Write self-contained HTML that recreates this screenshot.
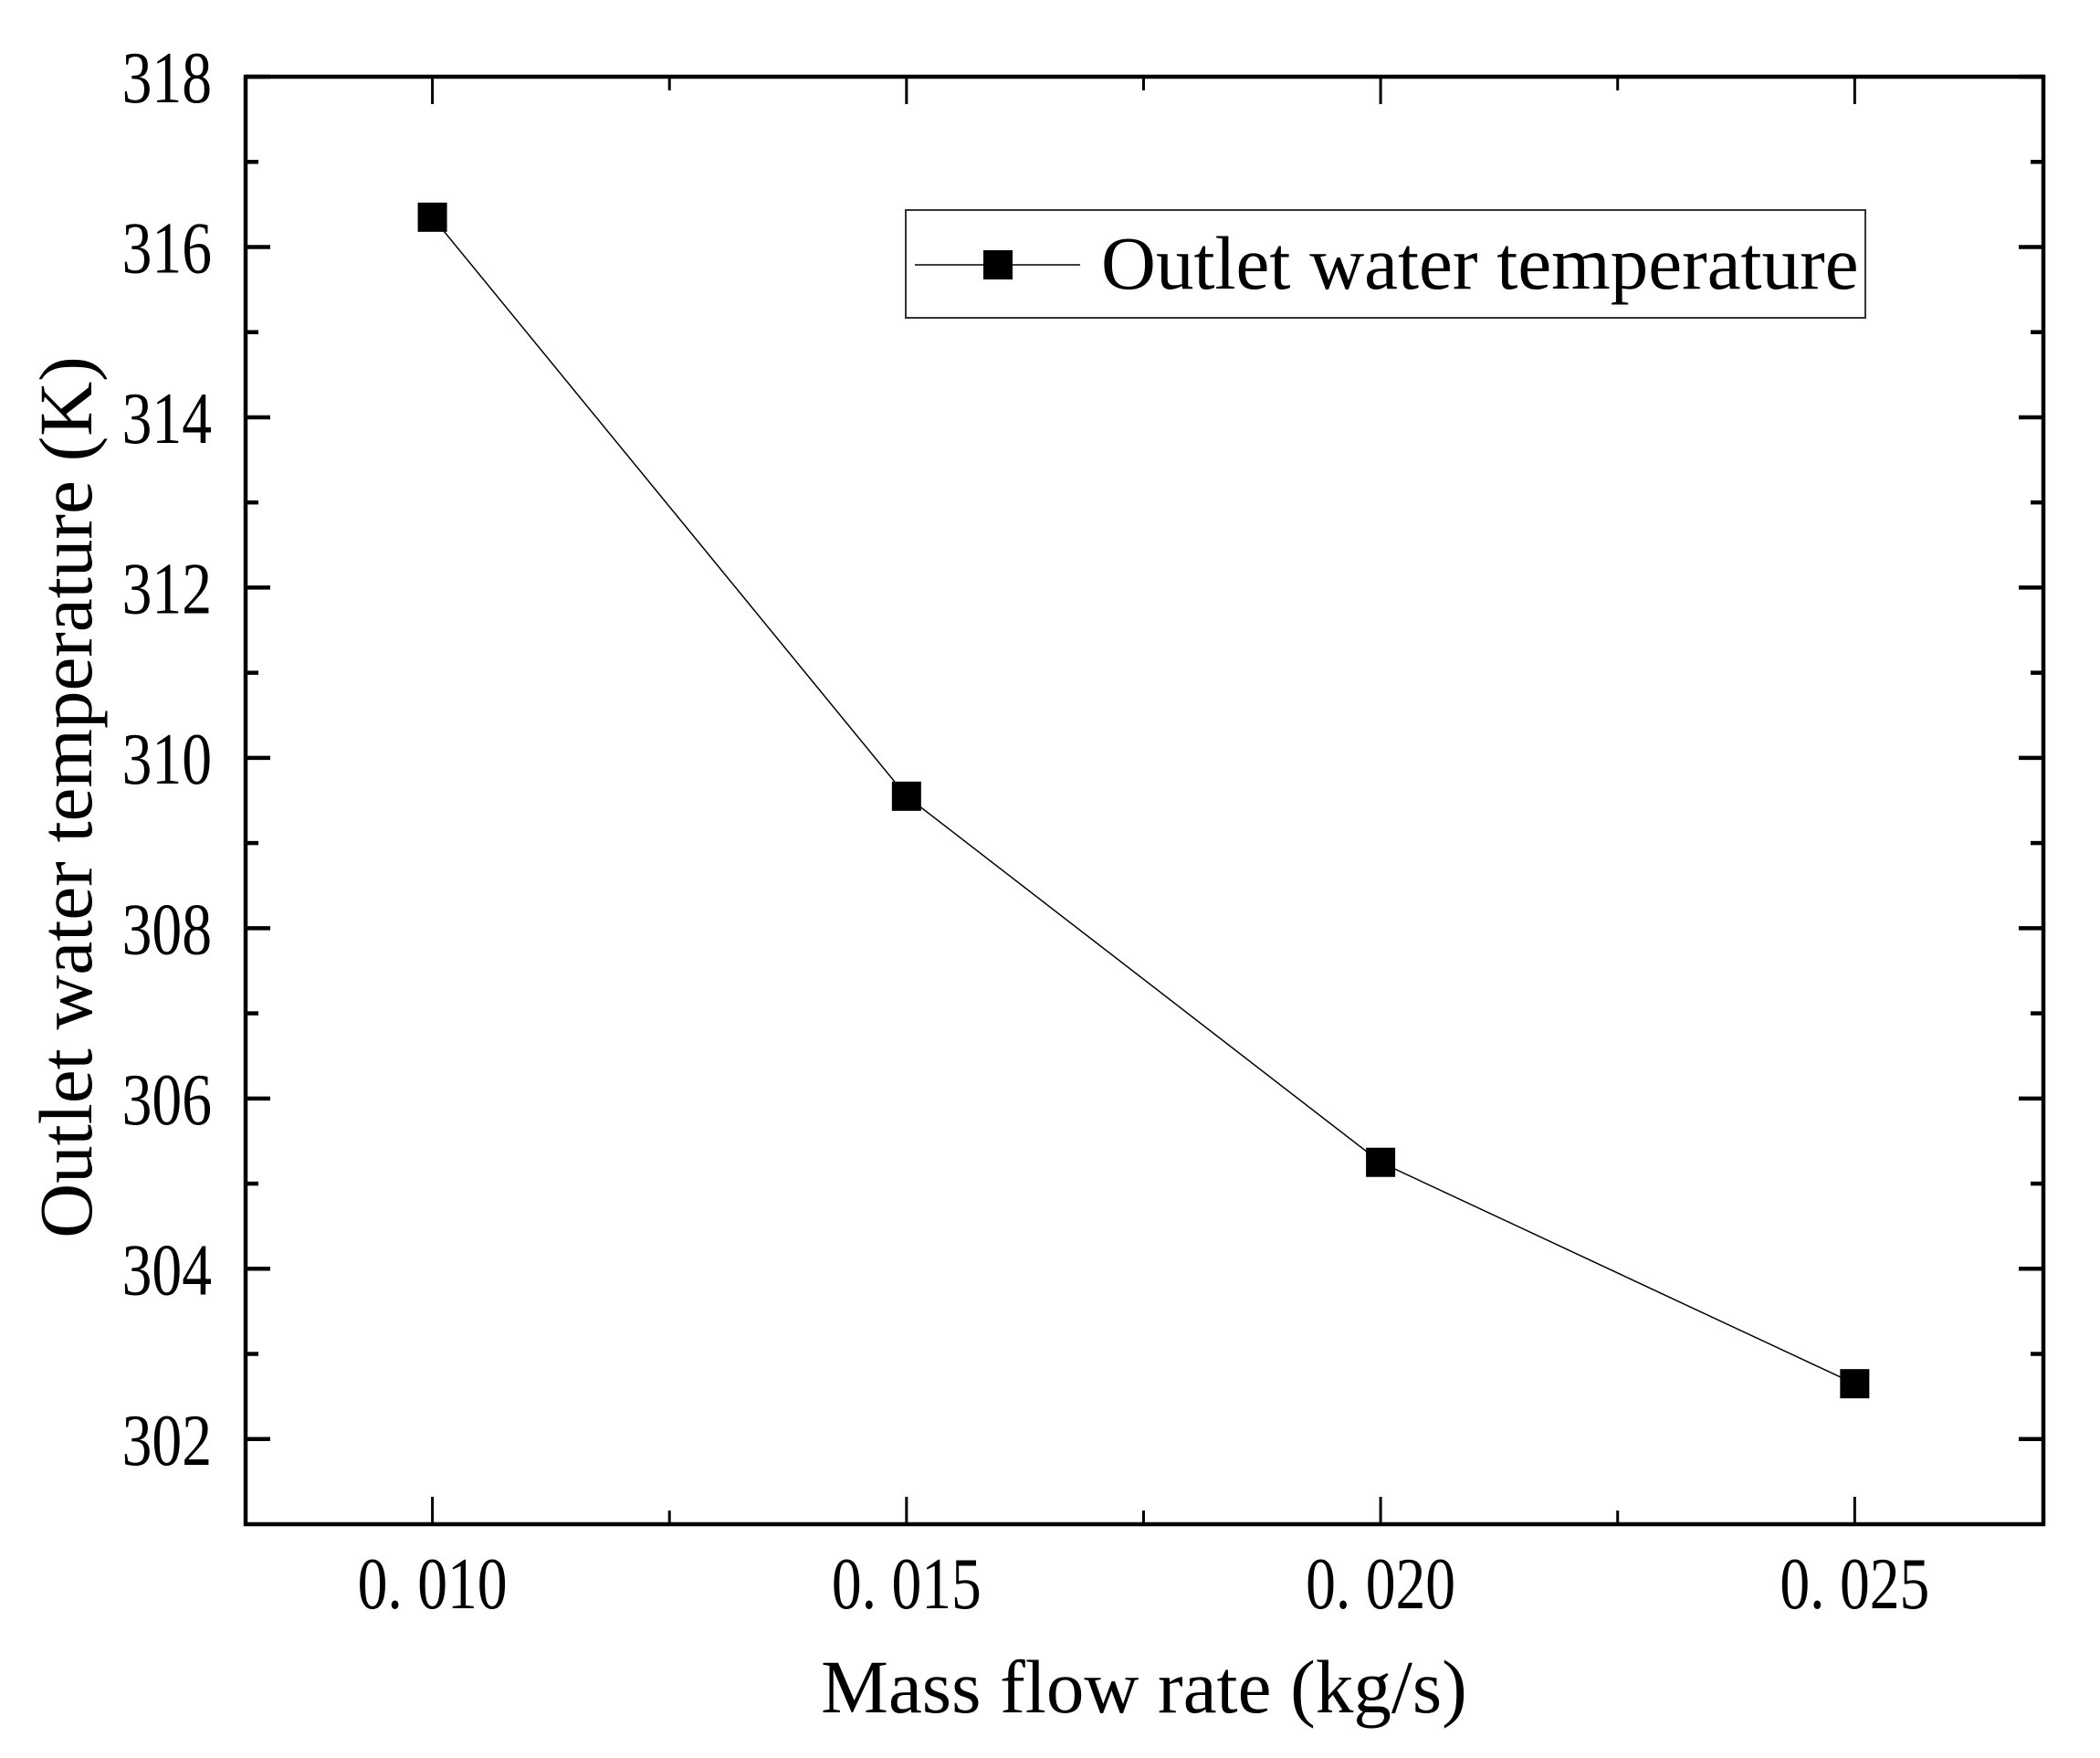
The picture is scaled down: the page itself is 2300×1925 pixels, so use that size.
<!DOCTYPE html>
<html><head><meta charset="utf-8"><style>
html,body{margin:0;padding:0;background:#fff;}
svg{display:block;}
text{font-family:"Liberation Serif",serif;fill:#000;}
</style></head><body>
<svg id="chart" width="2300" height="1925" viewBox="0 0 2300 1925" xmlns="http://www.w3.org/2000/svg">
<g id="axes"></g>
<g id="series"></g>
<g id="legend">
  <rect x="992" y="230" width="1051" height="118" fill="#fff" stroke="#333" stroke-width="2"/>
  <line x1="1002" y1="290" x2="1183" y2="290" stroke="#000" stroke-width="1.5"/>
  <rect x="1077" y="274" width="32" height="32" fill="#000"/>
  <text x="1206" y="316" font-size="83">Outlet water temperature</text>
</g>
<text x="1253" y="1875" font-size="83" text-anchor="middle">Mass flow rate (kg/s)</text>
<text transform="translate(100,873) rotate(-90)" font-size="83" text-anchor="middle">Outlet water temperature (K)</text>
</svg>
<script>
const categories = [0.010, 0.015, 0.020, 0.025];
const values = [316.35, 309.55, 305.25, 302.65];
const xTicks = [0.010, 0.015, 0.020, 0.025];
const xTickLabels = ["0. 010", "0. 015", "0. 020", "0. 025"];
const yTicks = [302, 304, 306, 308, 310, 312, 314, 316, 318];
const yTickLabels = ["302", "304", "306", "308", "310", "312", "314", "316", "318"];

const NS = "http://www.w3.org/2000/svg";
const L = 269, R = 2238, T = 84, B = 1669;
const xMin = 0.00803, xMax = 0.02699, yMin = 301.0, yMax = 318;
function xs(v){ return L + (v - xMin) / (xMax - xMin) * (R - L); }
function ys(v){ return B - (v - yMin) / (yMax - yMin) * (B - T); }
function mk(tag, attrs, parent){
  const e = document.createElementNS(NS, tag);
  for (const k in attrs) e.setAttribute(k, attrs[k]);
  parent.appendChild(e);
  return e;
}
const axes = document.getElementById('axes');
const series = document.getElementById('series');

const frame = mk('rect', {x:L, y:T, width:R-L, height:B-T, fill:'none', stroke:'#000', 'stroke-width':4.5}, axes);



yTicks.forEach((v, i) => {
  const y = ys(v);
  const t1 = mk('line', {x1:L, y1:y, x2:L+27, y2:y, stroke:'#000', 'stroke-width':4.5}, axes);
  
  
  const t2 = mk('line', {x1:R, y1:y, x2:R-27, y2:y, stroke:'#000', 'stroke-width':4.5}, axes);
  
  
  const lab = mk('text', {x:0, y:0, 'font-size':80, 'text-anchor':'end', transform:'translate(' + (L-37) + ',' + (y+28) + ') scale(0.82,1)'}, axes);
  lab.textContent = yTickLabels[i];
  
  
  if (i < yTicks.length - 1) {
    const ym = ys(v + 1);
    const m1 = mk('line', {x1:L, y1:ym, x2:L+14, y2:ym, stroke:'#000', 'stroke-width':4.5}, axes);
    
    
    const m2 = mk('line', {x1:R, y1:ym, x2:R-14, y2:ym, stroke:'#000', 'stroke-width':4.5}, axes);
    
    
  }
});

xTicks.forEach((v, i) => {
  const x = xs(v);
  const t1 = mk('line', {x1:x, y1:B, x2:x, y2:B-30, stroke:'#000', 'stroke-width':3}, axes);
  
  
  const t2 = mk('line', {x1:x, y1:T, x2:x, y2:T+30, stroke:'#000', 'stroke-width':3}, axes);
  
  
  const lab = mk('text', {x:0, y:0, 'font-size':80, 'text-anchor':'middle', transform:'translate(' + x + ',1761) scale(0.82,1)'}, axes);
  lab.textContent = xTickLabels[i];
  
  
  if (i < xTicks.length - 1) {
    const xm = xs(v + 0.0025);
    const m1 = mk('line', {x1:xm, y1:B, x2:xm, y2:B-15, stroke:'#000', 'stroke-width':3}, axes);
    
    
    const m2 = mk('line', {x1:xm, y1:T, x2:xm, y2:T+15, stroke:'#000', 'stroke-width':3}, axes);
    
    
  }
});

const pts = categories.map((c, i) => xs(c) + ',' + ys(values[i])).join(' ');
const line = mk('polyline', {points:pts, fill:'none', stroke:'#000', 'stroke-width':1.5}, series);


categories.forEach((c, i) => {
  const m = mk('rect', {x:xs(c)-16, y:ys(values[i])-16, width:32, height:32, fill:'#000'}, series);
  
  
});
</script>
</body></html>
